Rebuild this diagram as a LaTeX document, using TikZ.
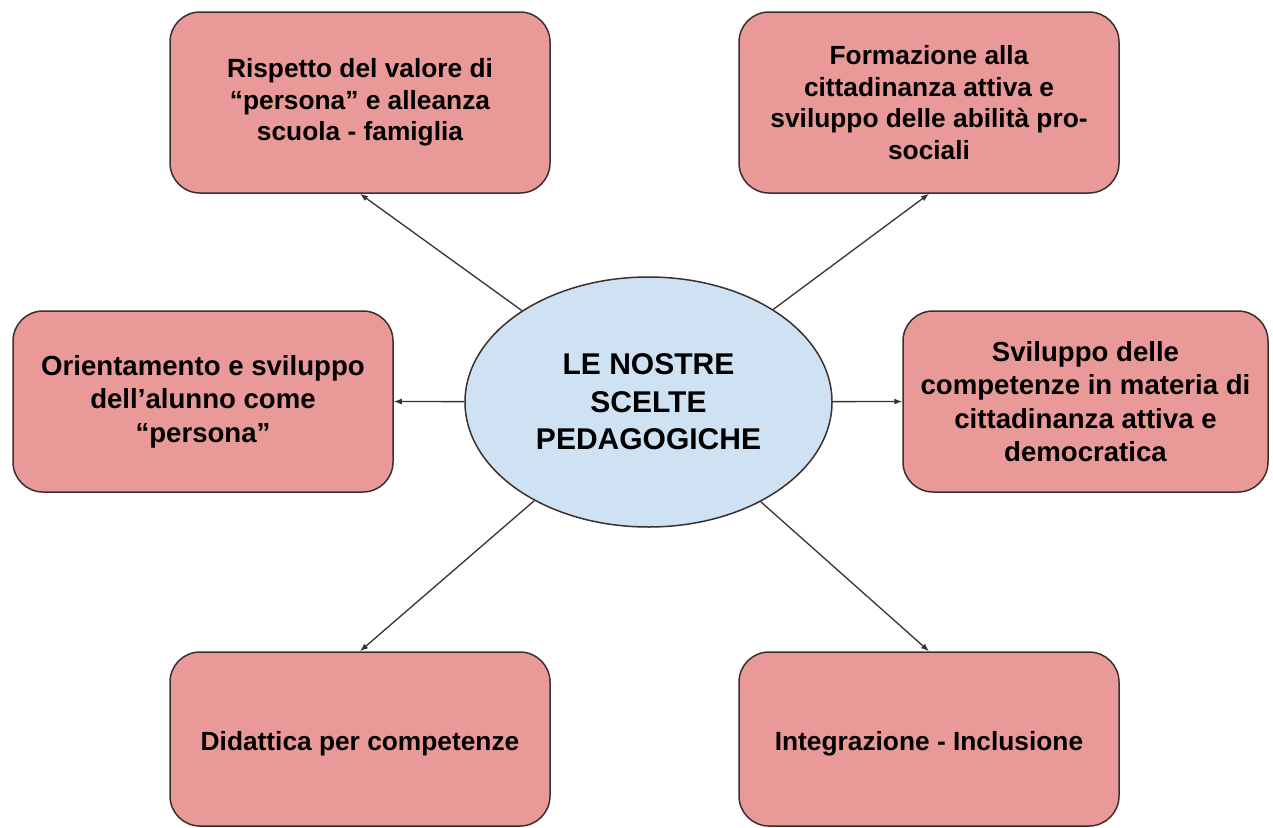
\documentclass[tikz,border=0pt]{standalone}
\usepackage{fontspec}
\setmainfont{Liberation Sans}
\usetikzlibrary{arrows.meta,shapes.geometric}
\definecolor{boxred}{HTML}{EA9999}
\definecolor{ovalblue}{HTML}{CFE2F3}
\definecolor{edgegray}{HTML}{3A3030}
\begin{document}
\begin{tikzpicture}[
    x=1pt, y=-1pt,
    scelta/.style = {draw=edgegray, line width=1.5pt, fill=boxred, rounded corners=30pt,
                     minimum width=380pt, minimum height=181pt, align=center,
                     execute at begin node={\rule{0pt}{28pt}},
                     font=\fontsize{26.3}{31.5}\selectfont\bfseries},
    sceltalarga/.style = {scelta, execute at begin node={\rule{0pt}{31pt}},
                     font=\fontsize{27.6}{33.5}\selectfont\bfseries},
    centro/.style = {draw=edgegray, line width=1.5pt, fill=ovalblue, ellipse,
                     minimum width=367pt, minimum height=250pt, inner sep=0pt, align=center,
                     font=\fontsize{30}{37.5}\selectfont\bfseries},
    link/.style = {draw=edgegray, line width=1.3pt, -{Latex[length=8pt,width=6pt]}},
  ]
  \useasboundingbox (0,0) rectangle (1273,827);
  \node[centro] (c) at (648.5,402) {LE NOSTRE\\SCELTE\\PEDAGOGICHE};
  % caselle intorno
  \node[scelta] (tl) at (360,102.5) {Rispetto del valore di\\“persona” e alleanza\\scuola - famiglia};
  \node[scelta] (tr) at (929,102.5) {Formazione alla\\cittadinanza attiva e\\sviluppo delle abilità pro-\\sociali};
  \node[sceltalarga] (ml) at (203,401.5) {Orientamento e sviluppo\\dell’alunno come\\“persona”};
  \node[sceltalarga, minimum width=365pt] (mr) at (1085.5,401.5) {Sviluppo delle\\competenze in materia di\\cittadinanza attiva e\\democratica};
  \node[scelta, minimum height=174pt] (bl) at (360,739) {Didattica per competenze};
  \node[scelta, minimum height=174pt] (br) at (929,739) {Integrazione - Inclusione};
  % frecce
  \draw[link] (c) -- (tl.south);
  \draw[link] (c) -- (tr.south);
  \draw[link] (c) -- (ml.east);
  \draw[link] (c) -- (mr.west);
  \draw[link] (c) -- (bl.north);
  \draw[link] (c) -- (br.north);
\end{tikzpicture}
\end{document}
